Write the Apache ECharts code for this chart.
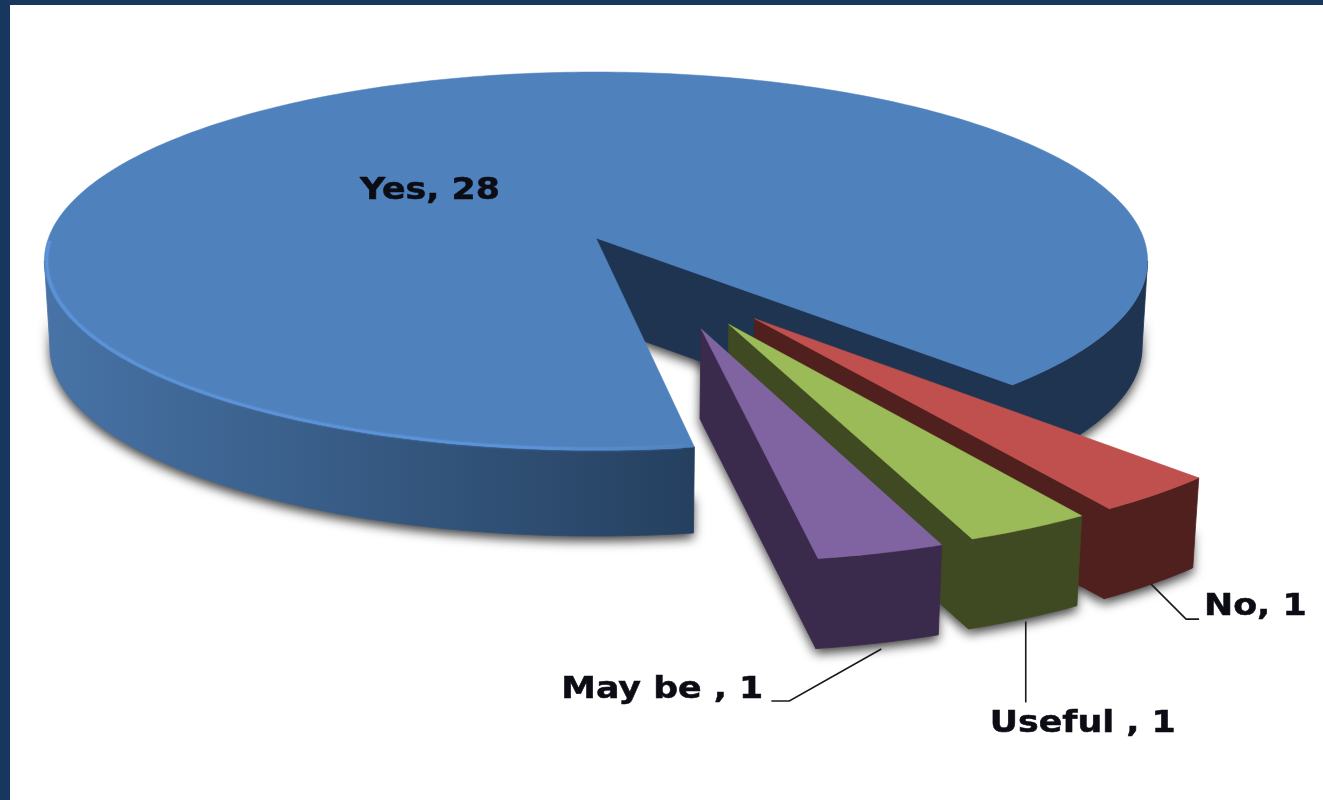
<!DOCTYPE html>
<html>
<head>
<meta charset="utf-8">
<style>html,body{margin:0;padding:0;background:#fff}#chart{width:1323px;height:800px}</style>
<script src="https://cdn.jsdelivr.net/npm/echarts@6/dist/echarts.min.js"></script>
</head>
<body>
<div id="chart"></div>
<script>
// Survey answers
const sliceNames = ['Yes', 'No', 'Useful ', 'May be '];
const sliceValues = [28, 1, 1, 1];

// Face colours per slice
const topColors = ['#4f81bd', '#c0504d', '#9bbb59', '#8064a2'];
const wallColors = [
  ['#4773a6', '#25405f', '#1f3450'],
  ['#4f201d', '#4f201d', '#4f201d'],
  ['#3f4a22', '#3f4a22', '#3f4a22'],
  ['#3a2a4c', '#3a2a4c', '#3a2a4c']
];

// Tilted disc: perspective projection of the unit circle onto the page
const view = { cx: 596, cy: 238, R: 547.5, H: 186.2, k: 0.1217, shrink: 0.99 };
const firstAngle = 9.1;         // degrees from the front of the disc, towards the right
const sliceDepth = [86, 90, 90, 90];
const explodeDist = [0, 0.495, 0.495, 0.495];
const sliceRadius = [1, 0.975, 0.975, 0.975];
const fanSpread = 0.53;         // how far the pulled slices diverge from their common direction
const explodeBias = 1.1;        // degrees added to the common pull direction

// Label placement, relative to each slice's anchor
const labelFont = 'bold 30px "DejaVu Sans"';
const labelStretch = 1.16;
const labelLayout = [
  { dx: -166, dy: -47, align: 'center', leader: null },
  { dx: 53, dy: 23, align: 'left', leader: [[0, 0], [35, 35], [48, 35]] },
  { dx: 58, dy: 106, align: 'center', leader: [[1, 3], [1, 84]] },
  { dx: -115, dy: 47, align: 'right', leader: [[3, 6], [-89, 58], [-107, 58]] }
];

const total = sliceValues.reduce((a, b) => a + b, 0);
const rad = d => d * Math.PI / 180;
const toAngle = c => echarts.number.linearMap(c, [0, total], [firstAngle, firstAngle - 360]);
const rimEdge = Math.acos(view.k) * 180 / Math.PI;

function project(u, v, depth) {
  const s = 1 / (1 - view.k * v);
  let x = view.cx + view.R * u * s;
  let y = view.cy + view.H * v * s;
  if (depth) {
    x = view.cx + (x - view.cx) * view.shrink;
    y += depth;
  }
  return [x, y];
}

// Angular extent of every slice, and the direction the small ones are pulled out
const spans = [];
sliceValues.reduce((cum, val) => {
  spans.push([toAngle(cum), toAngle(cum + val)]);
  return cum + val;
}, 0);
const pulled = spans.slice(1);
const groupMid = (pulled[0][0] + pulled[pulled.length - 1][1]) / 2 + 360;

function offsetOf(i) {
  if (!explodeDist[i]) return [0, 0];
  const mid = (spans[i][0] + spans[i][1]) / 2 + 360;
  const dir = rad(groupMid + explodeBias + (mid - groupMid) * fanSpread);
  return [explodeDist[i] * Math.sin(dir), explodeDist[i] * Math.cos(dir)];
}

function rim(i, a, low) {
  const o = offsetOf(i), r = sliceRadius[i];
  return project(o[0] + r * Math.sin(rad(a)), o[1] + r * Math.cos(rad(a)), low ? sliceDepth[i] : 0);
}

function arc(i, from, to, low) {
  const n = Math.max(2, Math.ceil(Math.abs(to - from)));
  const pts = [];
  for (let j = 0; j <= n; j++) pts.push(rim(i, from + (to - from) * j / n, low));
  return pts;
}

// Outlines of the side faces of a slice: closing edge, then the visible rim parts
function wallOutlines(i) {
  const [a0, a1] = spans[i];
  const o = offsetOf(i);
  const outlines = [[project(o[0], o[1], 0), rim(i, a1, false), rim(i, a1, true), project(o[0], o[1], sliceDepth[i])]];
  [0, -360].forEach(w => {
    const lo = Math.max(a1, -rimEdge + w), hi = Math.min(a0, rimEdge + w);
    if (lo < hi) outlines.push(arc(i, lo, hi, false).concat(arc(i, hi, lo, true)));
  });
  return outlines;
}

// Soft drop shadow beneath the solid faces; rim outlines are a band along the wall's foot
function renderShadow(params, api) {
  return {
    type: 'group',
    children: wallOutlines(api.value(0)).map((outline, n) => ({
      type: 'polygon',
      shape: {
        points: n === 0 ? outline : outline.map((p, j) => {
          if (j >= outline.length / 2) return p;
          const foot = outline[outline.length - 1 - j];
          return [foot[0], foot[1] - 40];
        })
      },
      style: { fill: '#777', shadowBlur: 11, shadowColor: 'rgba(0,0,0,0.75)', shadowOffsetX: 0, shadowOffsetY: 5 }
    }))
  };
}

function renderSlice(params, api) {
  const i = api.value(0);
  const [a0, a1] = spans[i];
  const o = offsetOf(i);
  const apexTop = project(o[0], o[1], 0);
  const colors = wallColors[i];
  const wallFill = {
    type: 'linear', global: true, x: 45, y: 0, x2: 1147, y2: 0,
    colorStops: [
      { offset: 0, color: colors[0] },
      { offset: 0.59, color: colors[1] },
      { offset: 0.6, color: colors[2] },
      { offset: 1, color: colors[2] }
    ]
  };
  const children = wallOutlines(i).map((points, n) => {
    const fill = i === 0 ? (n === 0 ? colors[2] : wallFill) : colors[0];
    return { type: 'polygon', shape: { points }, style: { fill, stroke: fill, lineWidth: 0.8 } };
  });

  // Top face
  children.push({
    type: 'polygon',
    shape: { points: [apexTop].concat(arc(i, a0, a1, false)) },
    style: { fill: topColors[i], stroke: topColors[i], lineWidth: 0.5 }
  });

  // Lit bevel on the front rim of the large slice
  if (i === 0) {
    const inset = 0.996;
    const bevel = [];
    for (let a = -rimEdge - 6; a <= a0 - 1; a += 1) {
      bevel.push(project(inset * Math.sin(rad(a)), inset * Math.cos(rad(a)), 0));
    }
    children.push({
      type: 'polyline',
      shape: { points: bevel },
      style: {
        fill: null, lineWidth: 2.5, shadowBlur: 2, shadowColor: '#5f97e0',
        stroke: {
          type: 'linear', global: true, x: 45, y: 0, x2: 695, y2: 0,
          colorStops: [
            { offset: 0, color: '#5b92d8' },
            { offset: 0.75, color: '#5b92d8' },
            { offset: 1, color: '#4f81bd' }
          ]
        }
      }
    });
  }

  // Value label and its leader line
  const lay = labelLayout[i];
  const anchor = i === 0 ? apexTop : rim(i, (a0 + a1) / 2, true);
  if (lay.leader) {
    children.push({
      type: 'polyline',
      shape: { points: lay.leader.map(p => [anchor[0] + p[0], anchor[1] + p[1]]) },
      style: { fill: null, stroke: '#1a1a1a', lineWidth: 1.6 }
    });
  }
  children.push({
    type: 'text',
    x: anchor[0] + lay.dx,
    y: anchor[1] + lay.dy,
    scaleX: labelStretch,
    style: {
      text: sliceNames[i] + ', ' + api.value(1),
      x: 0, y: 0,
      align: lay.align, verticalAlign: 'middle',
      font: labelFont, fill: '#0c0c14', stroke: '#0c0c14', lineWidth: 0.5
    }
  });
  return { type: 'group', children };
}

const chart = echarts.init(document.getElementById('chart'), null, { renderer: 'canvas' });
const sliceData = sliceNames.map((n, i) => ({ name: n, value: [i, sliceValues[i]] }));
chart.setOption({
  animation: false,
  backgroundColor: '#17375e',
  graphic: [{
    type: 'rect', left: 10, top: 5,
    shape: { width: 1313, height: 795 },
    style: { fill: '#fff' }
  }],
  series: [
    { type: 'custom', coordinateSystem: 'none', silent: true, z: 1, renderItem: renderShadow, data: sliceData },
    { type: 'custom', coordinateSystem: 'none', silent: true, z: 2, renderItem: renderSlice, data: sliceData }
  ]
});
</script>
</body>
</html>
